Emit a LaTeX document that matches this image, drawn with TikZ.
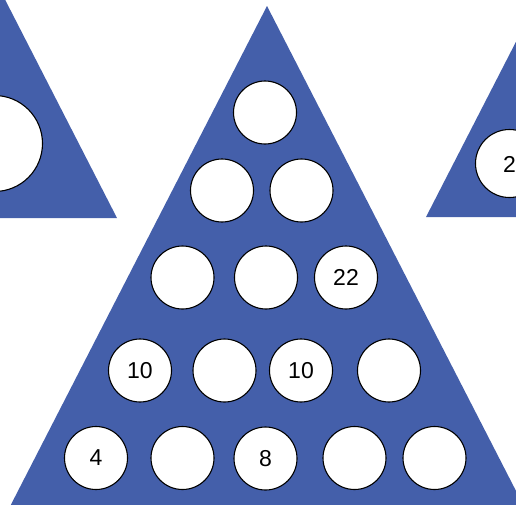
\documentclass[tikz,border=0pt]{standalone}
\usepackage{fontspec}
\setmainfont{Liberation Sans}
\usetikzlibrary{positioning}
\definecolor{pegblue}{RGB}{68,95,170}

\begin{document}
\begin{tikzpicture}[x=1pt,y=-1pt,
    board/.style={fill=pegblue},
    hole/.style={circle,draw=black,line width=1.1pt,fill=white,inner sep=0pt,
      minimum size=63pt,font=\fontsize{23}{23}\selectfont}]
    \useasboundingbox (0,0) rectangle (516,504);
    \clip (0,0) rectangle (516,504);
    % boards
    \fill[board] (-5,-20) -- (117,218) -- (-127,218) -- cycle;
    \fill[board] (540,-5) -- (660,217) -- (426,217) -- cycle;
    \fill[board] (267,6) -- (533,524) -- (1,524) -- cycle;
    % side holes
    \node[hole,minimum size=96pt] (lefthole) at (-5.5,143.5) {};
    \node[hole,minimum size=68pt] (righthole) at (509.5,163.5) {};
    \node[font=\fontsize{23}{23}\selectfont] (rightval) at (509.5,164) {2};
    % main board
    \node[hole] (h11) at (265,112.5) {};
    \node[hole] (h21) at (222,190.5) {};
    \node[hole] (h22) at (301.5,190.5) {};
    \node[hole] (h31) at (182.5,277.5) {};
    \node[hole] (h32) at (266,277.5) {};
    \node[hole] (h33) at (346,277.5) {22};
    \node[hole] (h41) at (140,370.5) {10};
    \node[hole] (h42) at (224.5,370.5) {};
    \node[hole] (h43) at (301,370.5) {10};
    \node[hole] (h44) at (389,370.5) {};
    \node[hole] (h51) at (96,458) {4};
    \node[hole] (h52) at (182.5,458) {};
    \node[hole] (h53) at (265.5,458.5) {8};
    \node[hole] (h54) at (354.5,458) {};
    \node[hole] (h55) at (434.5,458) {};
  \end{tikzpicture}
\end{document}
